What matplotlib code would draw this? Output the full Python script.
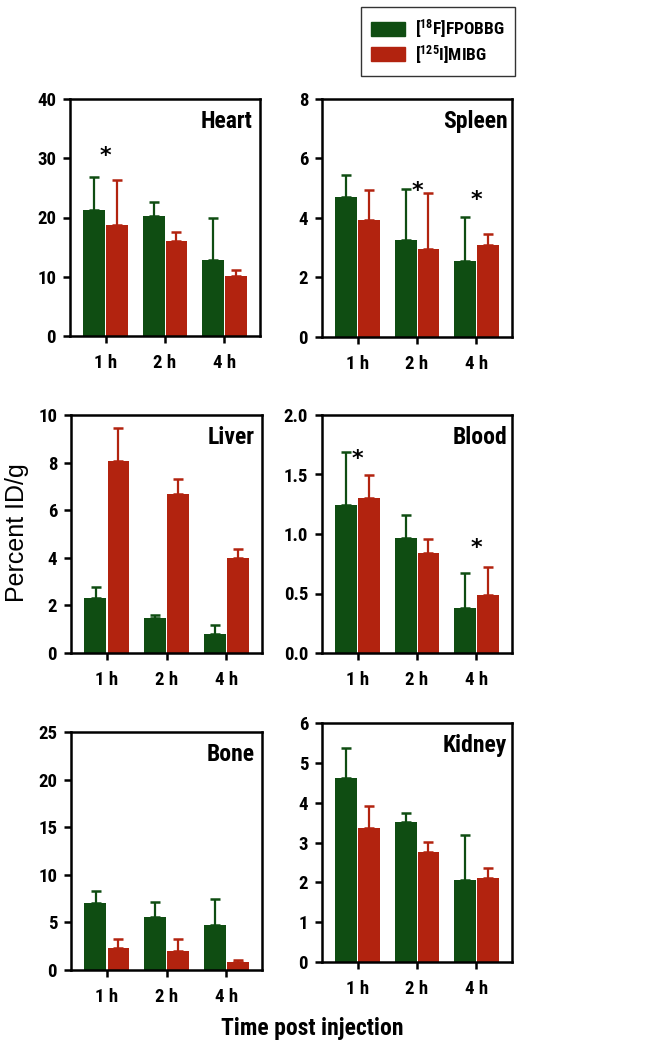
import numpy as np
import matplotlib
matplotlib.use('Agg')
import matplotlib.pyplot as plt
from matplotlib.patches import Patch
from matplotlib import font_manager

# fonte condensada, se existir
nomes = {f.name for f in font_manager.fontManager.ttflist}
fonte = 'Liberation Sans'
for candidata in ['Liberation Sans Narrow', 'Roboto Condensed', 'Open Sans Condensed', 'Noto Sans Display']:
    if candidata in nomes:
        fonte = candidata
        break

plt.rcParams['font.family'] = [fonte, 'DejaVu Sans']
plt.rcParams['font.weight'] = 'bold'
plt.rcParams['mathtext.fontset'] = 'custom'
plt.rcParams['mathtext.rm'] = fonte + ':bold'
plt.rcParams['mathtext.it'] = fonte + ':bold'
plt.rcParams['mathtext.bf'] = fonte + ':bold'

# dados (media e barra de erro superior)
tempos = ['1 h', '2 h', '4 h']
serie_f = '[$^{18}$F]FPOBBG'
serie_i = '[$^{125}$I]MIBG'

heart_f = [21.3, 20.2, 12.9]
heart_f_err = [5.5, 2.4, 7.1]
heart_i = [18.7, 16.1, 10.2]
heart_i_err = [7.7, 1.5, 1.0]

spleen_f = [4.72, 3.27, 2.57]
spleen_f_err = [0.71, 1.72, 1.47]
spleen_i = [3.93, 2.95, 3.10]
spleen_i_err = [1.02, 1.90, 0.36]

liver_f = [2.29, 1.47, 0.78]
liver_f_err = [0.47, 0.14, 0.41]
liver_i = [8.08, 6.66, 4.00]
liver_i_err = [1.39, 0.65, 0.39]

blood_f = [1.245, 0.97, 0.381]
blood_f_err = [0.44, 0.19, 0.295]
blood_i = [1.30, 0.839, 0.491]
blood_i_err = [0.198, 0.118, 0.23]

bone_f = [7.01, 5.54, 4.70]
bone_f_err = [1.26, 1.58, 2.73]
bone_i = [2.31, 2.03, 0.88]
bone_i_err = [0.92, 1.20, 0.21]

kidney_f = [4.63, 3.52, 2.05]
kidney_f_err = [0.75, 0.22, 1.14]
kidney_i = [3.37, 2.77, 2.12]
kidney_i_err = [0.54, 0.25, 0.23]

# asteriscos (indice do tempo, altura)
heart_stars = [(0, 30.4)]
spleen_stars = [(1, 4.9), (2, 4.62)]
blood_stars = [(0, 1.63), (2, 0.88)]

verde = '#0f4d12'
vermelho = '#b2230f'

condensada = fonte != 'Liberation Sans'
tam_tick = 13.5 if condensada else 12
tam_nome = 17 if condensada else 14

fig = plt.figure(figsize=(6.56, 10.5), dpi=100)
W, H = 656, 1050


def novo_eixo(x0, x1, y0, y1):
    return fig.add_axes([x0 / W, 1 - y1 / H, (x1 - x0) / W, (y1 - y0) / H])


def painel(ax, nome, f, f_err, i, i_err, ymax, yticks, ylabels, estrelas=(), xr=0.96):
    x = np.arange(len(tempos))
    largura = 0.375
    ax.bar(x - largura, f, largura - 0.008, align='edge', color=verde, zorder=2)
    ax.bar(x + 0.012, i, largura - 0.012, align='edge', color=vermelho, zorder=2)
    ax.errorbar(x - largura / 2, f, yerr=[np.zeros(3), f_err], fmt='none',
                ecolor=verde, elinewidth=1.6, capsize=3.8, capthick=1.8, zorder=1)
    ax.errorbar(x + largura / 2 + 0.006, i, yerr=[np.zeros(3), i_err], fmt='none',
                ecolor=vermelho, elinewidth=1.6, capsize=3.8, capthick=1.8, zorder=1)
    for k, h in estrelas:
        ax.text(x[k], h, '*', ha='center', va='center', fontsize=16, fontweight='bold',
                family=['DejaVu Sans'])
    ax.set_xlim(-0.6, 2.6)
    ax.set_ylim(0, ymax)
    ax.set_xticks(x)
    ax.set_xticklabels(tempos, fontsize=tam_tick, fontweight='bold')
    ax.set_yticks(yticks)
    ax.set_yticklabels(ylabels, fontsize=tam_tick, fontweight='bold')
    for s in ax.spines.values():
        s.set_linewidth(1.8)
    ax.tick_params(direction='out', length=5, width=1.8, pad=5)
    ax.tick_params(axis='x', pad=8)
    ax.text(xr, 0.955, nome, transform=ax.transAxes, ha='right', va='top',
            fontsize=tam_nome, fontweight='bold')


ax = novo_eixo(70, 260, 99, 336)
painel(ax, 'Heart', heart_f, heart_f_err, heart_i, heart_i_err, 40,
       [0, 10, 20, 30, 40], ['0', '10', '20', '30', '40'], heart_stars)

ax = novo_eixo(322, 512, 99, 337)
painel(ax, 'Spleen', spleen_f, spleen_f_err, spleen_i, spleen_i_err, 8,
       [0, 2, 4, 6, 8], ['0', '2', '4', '6', '8'], spleen_stars, xr=0.975)

ax = novo_eixo(71, 262, 415, 653)
painel(ax, 'Liver', liver_f, liver_f_err, liver_i, liver_i_err, 10,
       [0, 2, 4, 6, 8, 10], ['0', '2', '4', '6', '8', '10'])

ax = novo_eixo(322, 512, 415, 653)
painel(ax, 'Blood', blood_f, blood_f_err, blood_i, blood_i_err, 2.0,
       [0, 0.5, 1.0, 1.5, 2.0], ['0.0', '0.5', '1.0', '1.5', '2.0'], blood_stars, xr=0.975)

ax = novo_eixo(71, 262, 732, 970)
painel(ax, 'Bone', bone_f, bone_f_err, bone_i, bone_i_err, 25,
       [0, 5, 10, 15, 20, 25], ['0', '5', '10', '15', '20', '25'])

ax = novo_eixo(322, 512, 723, 962)
painel(ax, 'Kidney', kidney_f, kidney_f_err, kidney_i, kidney_i_err, 6,
       [0, 1, 2, 3, 4, 5, 6], ['0', '1', '2', '3', '4', '5', '6'], xr=0.975)

# legenda
tam_leg = 12.5 if condensada else 10.5
fig.legend(handles=[Patch(color=verde, label=serie_f), Patch(color=vermelho, label=serie_i)],
           loc='upper left', bbox_to_anchor=(361 / W, 1 - 7 / H), borderaxespad=0,
           prop={'weight': 'bold', 'size': tam_leg}, frameon=True, fancybox=False,
           edgecolor='black', handlelength=1.95, handleheight=0.85, borderpad=0.6,
           labelspacing=0.15, handletextpad=0.55)

fig.text(17 / W, 1 - 533 / H, 'Percent ID/g', rotation=90, ha='center', va='center',
         fontsize=18, fontweight='normal', family=['Liberation Sans', 'DejaVu Sans'])
fig.text(312 / W, 1 - 1028 / H, 'Time post injection', ha='center', va='center',
         fontsize=17 if condensada else 13.5, fontweight='bold')

fig.savefig('out.png', dpi=100)
